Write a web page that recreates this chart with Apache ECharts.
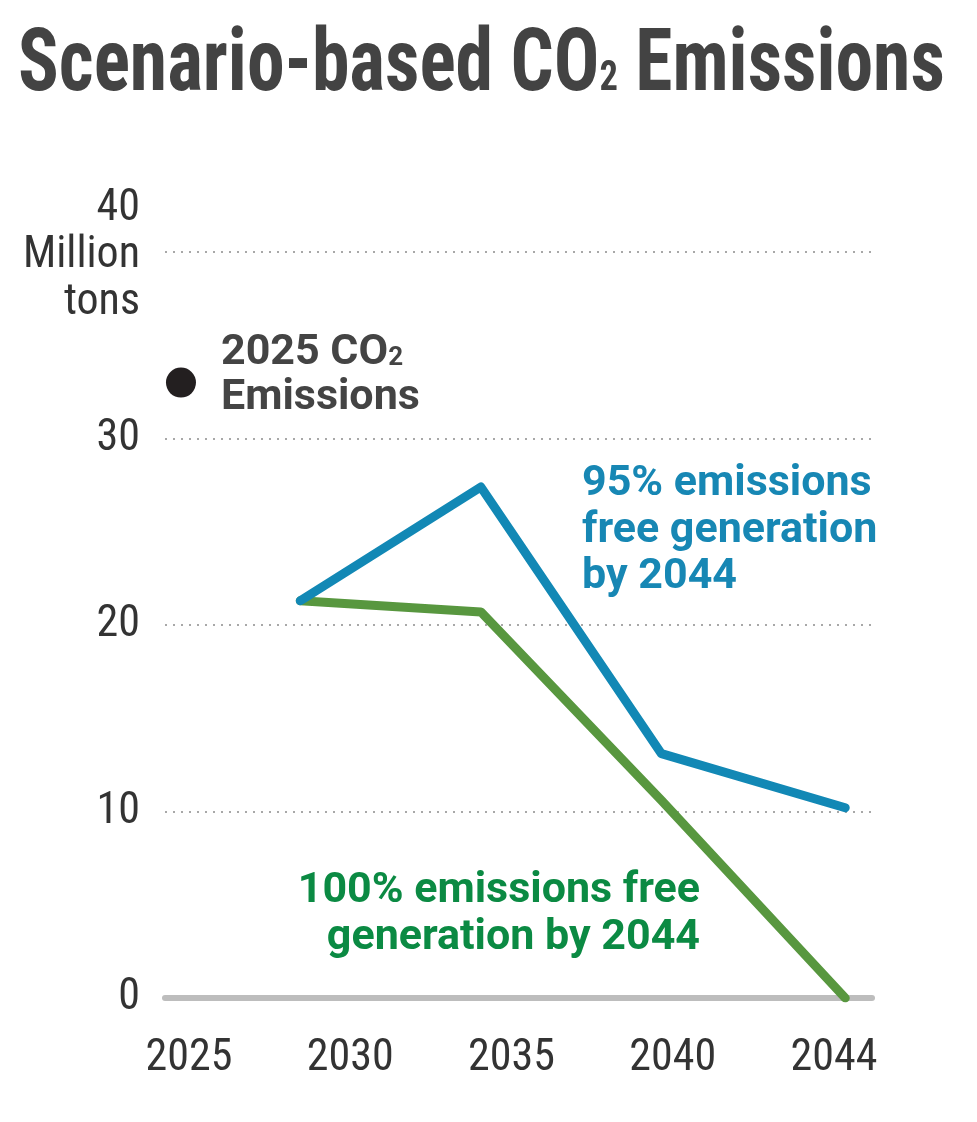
<!DOCTYPE html>
<html>
<head>
<meta charset="utf-8">
<script src="https://cdn.jsdelivr.net/npm/echarts@6/dist/echarts.min.js"></script>
<style>
  html, body { margin: 0; padding: 0; background: #fff; }
  #chart { width: 977px; height: 1122px; }
</style>
</head>
<body>
<div id="chart"></div>
<script>
  // x positions are in "label slot" units: slot i sits under yearLabels[i]
  var yearLabels = ['2025', '2030', '2035', '2040', '2044'];
  var labelSlots = [0, 1, 2, 3, 4];
  var yTicks = [0, 10, 20, 30, 40];

  var scenarioX = [0.69, 1.81, 2.93, 4.07];
  var blue95 = [21.3, 27.4, 13.1, 10.2];
  var green100 = [21.3, 20.7, 10.6, 0];
  var start2025 = [[-0.05, 33.0]];

  var narrow = '"Roboto Condensed", "Liberation Sans Narrow", "DejaVu Sans Condensed", sans-serif';
  var bold = 'Roboto, "Noto Sans", sans-serif';

  var chart = echarts.init(document.getElementById('chart'));

  function pairs(xs, ys) {
    return xs.map(function (x, i) { return [x, ys[i]]; });
  }

  var option = {
    animation: false,
    grid: { left: 165, right: 105, top: 252, bottom: 124 },
    xAxis: {
      type: 'value',
      min: -0.149,
      max: 4.236,
      axisLine: { show: true, onZero: true, lineStyle: { color: '#bdbdbd', width: 6 } },
      axisTick: { show: false },
      splitLine: { show: false },
      axisLabel: {
        customValues: labelSlots,
        formatter: function (v) { return yearLabels[Math.round(v)]; },
        color: '#333',
        fontFamily: narrow,
        fontSize: 44,
        margin: 39
      }
    },
    yAxis: {
      type: 'value',
      min: yTicks[0],
      max: yTicks[yTicks.length - 1],
      interval: 10,
      axisLine: { show: false },
      axisTick: { show: false },
      splitLine: {
        lineStyle: { color: '#a8a8a8', width: 2, type: [2, 6] }
      },
      axisLabel: {
        color: '#333',
        fontFamily: narrow,
        fontSize: 44,
        margin: 25,
        formatter: function (v) {
          if (v === 40) {
            return '{g|}\n{m|40}\n{m|Million}\n{m|tons}';
          }
          return String(v);
        },
        rich: {
          g: { lineHeight: 8, fontSize: 1 },
          m: { color: '#333', fontFamily: narrow, fontSize: 44, lineHeight: 47, align: 'right' }
        }
      }
    },
    series: [
      {
        name: '95% emissions free generation by 2044',
        type: 'line',
        data: pairs(scenarioX, blue95),
        symbol: 'none',
        lineStyle: { color: '#1288b5', width: 9, cap: 'round', join: 'round' },
        z: 3
      },
      {
        name: '100% emissions free generation by 2044',
        type: 'line',
        data: pairs(scenarioX, green100),
        symbol: 'none',
        lineStyle: { color: '#58973f', width: 9, cap: 'round', join: 'round' },
        z: 2
      },
      {
        name: '2025 CO2 Emissions',
        type: 'scatter',
        data: start2025,
        symbolSize: 30,
        itemStyle: { color: '#231f20', opacity: 1 }
      }
    ],
    graphic: [
      {
        type: 'text',
        x: 18,
        y: 25,
        scaleX: 0.87,
        style: {
          text: 'Scenario-based CO{s|2} Emissions',
          font: 'bold 87px ' + narrow,
          fill: '#434343',
          textVerticalAlign: 'top',
          rich: {
            s: { font: 'bold 42px ' + narrow, fill: '#434343', verticalAlign: 'bottom', padding: [0, 0, 12, 0] }
          }
        }
      },
      {
        type: 'text',
        x: 221,
        y: 331,
        style: {
          text: '2025 CO{s|2}\nEmissions',
          font: 'bold 43px ' + bold,
          lineHeight: 45,
          fill: '#444',
          textAlign: 'left',
          textVerticalAlign: 'top',
          rich: {
            s: { font: 'bold 26px ' + bold, fill: '#444', verticalAlign: 'bottom', padding: [0, 0, 5, 0] }
          }
        }
      },
      {
        type: 'text',
        x: 582,
        y: 461,
        style: {
          text: '95% emissions\nfree generation\nby 2044',
          font: 'bold 43px ' + bold,
          lineHeight: 46.5,
          fill: '#1787b4',
          textAlign: 'left',
          textVerticalAlign: 'top'
        }
      },
      {
        type: 'text',
        x: 700,
        y: 868,
        style: {
          text: '100% emissions free\ngeneration by 2044',
          font: 'bold 43px ' + bold,
          lineHeight: 47,
          fill: '#0b8a43',
          textAlign: 'right',
          textVerticalAlign: 'top'
        }
      }
    ]
  };

  chart.setOption(option);
</script>
</body>
</html>
